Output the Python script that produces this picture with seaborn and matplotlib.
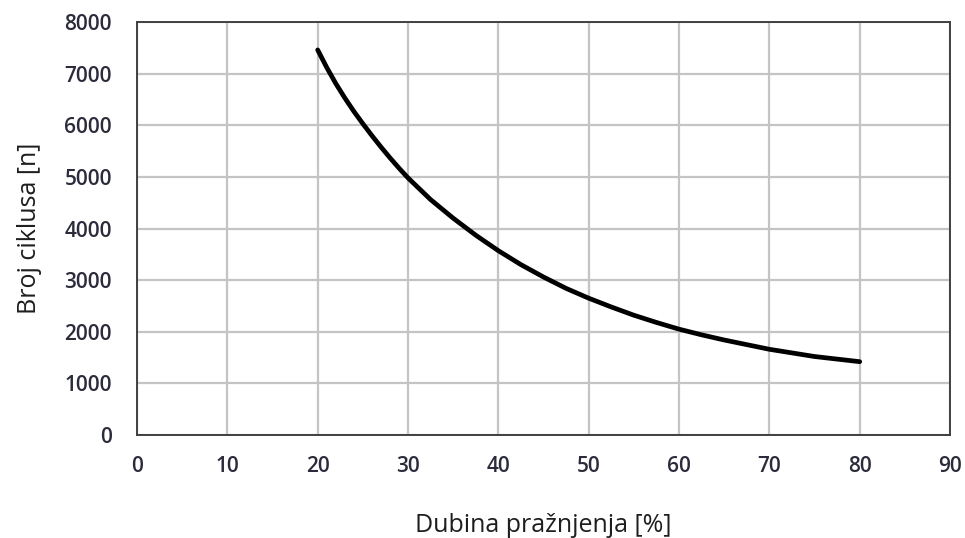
import matplotlib
matplotlib.use("Agg")
from matplotlib import pyplot as plt
import seaborn as sns
import pandas as pd

# values
dod = [20, 21, 22, 23, 24, 25, 26, 27, 28, 29, 30, 32.5, 35, 37.5, 40, 42.5, 45, 47.5,
       50, 52.5, 55, 57.5, 60, 62.5, 65, 67.5, 70, 72.5, 75, 77.5, 80]
cycles = [7460, 7120, 6810, 6530, 6270, 6030, 5800, 5580, 5370, 5170, 4980, 4560, 4200,
          3870, 3570, 3300, 3060, 2840, 2650, 2480, 2320, 2180, 2050, 1940, 1840, 1750,
          1660, 1590, 1520, 1470, 1420]
x_ticks = list(range(0, 91, 10))
y_ticks = list(range(0, 8001, 1000))

df = pd.DataFrame({"dod": dod, "cycles": cycles})

sns.set_theme(style="white")
plt.rcParams["font.family"] = ["Open Sans", "DejaVu Sans"]

fig = plt.figure(figsize=(9.65, 5.38), dpi=100)
ax = fig.add_axes([0.142, 0.1915, 0.8425, 0.7675])

sns.lineplot(data=df, x="dod", y="cycles", color="black", linewidth=3.4, ax=ax,
             solid_capstyle="round")

ax.set_xlim(0, 90)
ax.set_ylim(0, 8000)
ax.set_xticks(x_ticks)
ax.set_yticks(y_ticks)
ax.grid(True, color="#c4c4c4", linewidth=1.6)
ax.set_axisbelow(True)
for s in ax.spines.values():
    s.set_color("#404040")
    s.set_linewidth(1.4)
ax.tick_params(axis="both", direction="out", length=9, width=1.6, color="#c4c4c4",
               labelsize=15, labelcolor="#2b2b3b")
ax.tick_params(axis="x", pad=6)
ax.tick_params(axis="y", pad=9)
for lab in ax.get_xticklabels() + ax.get_yticklabels():
    lab.set_fontweight("semibold")

ax.set_xlabel("Dubina pražnjenja [%]", fontsize=18, color="#1e1e1e", labelpad=26)
ax.set_ylabel("Broj ciklusa [n]", fontsize=18, color="#1e1e1e", labelpad=16)

fig.savefig("out.png", dpi=100)
